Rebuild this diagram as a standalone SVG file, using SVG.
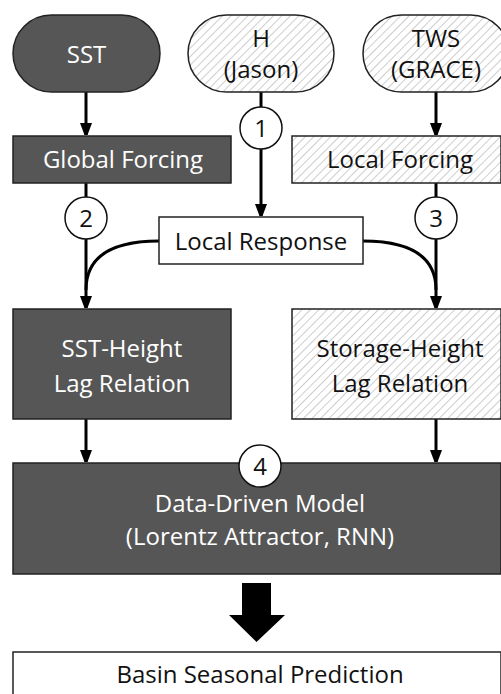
<svg xmlns="http://www.w3.org/2000/svg" width="501" height="694" viewBox="0 0 501 694">
<defs>
<pattern id="hatch" patternUnits="userSpaceOnUse" width="6" height="6" patternTransform="rotate(45)">
<rect width="6" height="6" fill="#ffffff"/>
<line x1="0" y1="0" x2="0" y2="6" stroke="#c8c8c8" stroke-width="1.8"/>
</pattern>
<marker id="arr" viewBox="0 0 12 16" refX="12" refY="6" markerWidth="12" markerHeight="16" markerUnits="userSpaceOnUse" orient="auto">
<path d="M0,0 L16,6 L0,12 Z" fill="#000"/>
</marker>
</defs>
<style>
.dark{fill:#565656;stroke:#222;stroke-width:1.5}
.hat{fill:url(#hatch);stroke:#222;stroke-width:1.5}
.wht{fill:#fff;stroke:#222;stroke-width:1.5}
.num{fill:#fff;stroke:#111;stroke-width:1.5}
text{font-family:"Open Sans","Noto Sans",sans-serif;font-size:24px;text-anchor:middle}
.tw{fill:#fff}
.tb{fill:#111}
.ln{fill:none;stroke:#000;stroke-width:3}
</style>
<rect width="501" height="694" fill="#fff"/>
<g id="connectors">
<line class="ln" x1="86" y1="92" x2="86" y2="135" marker-end="url(#arr)"/>
<line class="ln" x1="436" y1="92" x2="436" y2="135" marker-end="url(#arr)"/>
<line class="ln" x1="261" y1="92" x2="261" y2="216" marker-end="url(#arr)"/>
<line class="ln" x1="86" y1="183" x2="86" y2="308" marker-end="url(#arr)"/>
<line class="ln" x1="436" y1="183" x2="436" y2="308" marker-end="url(#arr)"/>
<path class="ln" d="M159,241 C110,241 86,258 86,290"/>
<path class="ln" d="M363,241 C412,241 436,258 436,290"/>
<line class="ln" x1="86" y1="419" x2="86" y2="462" marker-end="url(#arr)"/>
<line class="ln" x1="436" y1="419" x2="436" y2="462" marker-end="url(#arr)"/>
<path d="M242,583 L271,583 L271,615 L285,615 L256.5,642 L229,615 L242,615 Z" fill="#000"/>
</g>
<g id="sst"><rect class="dark" x="13" y="15" width="147" height="77" rx="38.5"/><text class="tw" x="86.5" y="63">SST</text></g>
<g id="h"><rect class="hat" x="188" y="15" width="146" height="77" rx="38.5"/><text class="tb" x="261" y="47">H</text><text class="tb" x="261" y="78">(Jason)</text></g>
<g id="tws"><rect class="hat" x="363" y="15" width="146" height="77" rx="38.5"/><text class="tb" x="436" y="47">TWS</text><text class="tb" x="436" y="78">(GRACE)</text></g>
<g id="global"><rect class="dark" x="13" y="136" width="218" height="47"/><text class="tw" x="123" y="168">Global Forcing</text></g>
<g id="local"><rect class="hat" x="292" y="136" width="209" height="47"/><text class="tb" x="400" y="168">Local Forcing</text></g>
<g id="c1"><circle class="num" cx="261" cy="128" r="21"/><text class="tb" x="261" y="137">1</text></g>
<g id="c2"><circle class="num" cx="86" cy="218" r="21"/><text class="tb" x="86" y="227">2</text></g>
<g id="c3"><circle class="num" cx="436" cy="218" r="21"/><text class="tb" x="436" y="227">3</text></g>
<g id="response"><rect class="wht" x="159" y="217" width="204" height="47"/><text class="tb" x="261" y="250">Local Response</text></g>
<g id="sstheight"><rect class="dark" x="13" y="309" width="218" height="110"/><text class="tw" x="122" y="357">SST-Height</text><text class="tw" x="122" y="392">Lag Relation</text></g>
<g id="storage"><rect class="hat" x="292" y="309" width="209" height="110"/><text class="tb" x="400" y="357">Storage-Height</text><text class="tb" x="400" y="392">Lag Relation</text></g>
<g id="model"><rect class="dark" x="13" y="463" width="488" height="111"/><text class="tw" x="260" y="512">Data-Driven Model</text><text class="tw" x="260" y="545">(Lorentz Attractor, RNN)</text></g>
<g id="c4"><circle class="num" cx="260" cy="466" r="21"/><text class="tb" x="260" y="475">4</text></g>
<g id="basin"><rect class="wht" x="13" y="652" width="488" height="50"/><text class="tb" x="260" y="683">Basin Seasonal Prediction</text></g>
</svg>
